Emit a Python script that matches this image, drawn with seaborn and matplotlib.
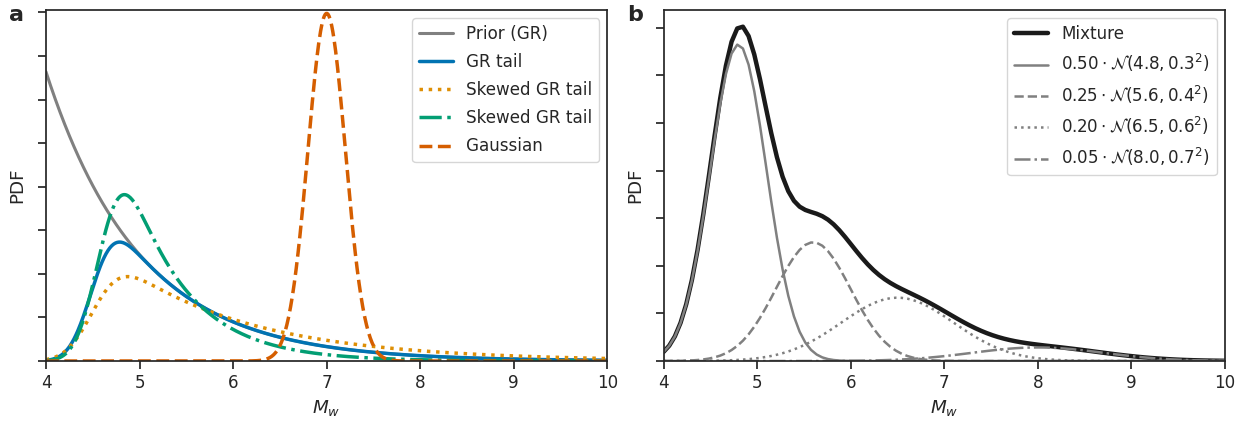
import math

import matplotlib
matplotlib.use("Agg")
import matplotlib.pyplot as plt
import numpy as np
import seaborn as sns

# ---- panel a: magnitude priors / likelihood shapes
mag_min = 4.0
prior_amp = 1.66
prior_rate = 1.0
tail_labels = ["GR tail", "Skewed GR tail", "Skewed GR tail"]
tail_amp = [1.66, 0.97, 4.45]
tail_rate = [1.0, 0.7, 1.6]
tail_det_mu = [4.54, 4.55, 4.655]
tail_det_sd = [0.19, 0.23, 0.20]
gauss_mu = 7.0
gauss_sd = 0.2

# ---- panel b: Gaussian mixture components (from the legend)
mix_w = [0.50, 0.25, 0.20, 0.05]
mix_mu = [4.8, 5.6, 6.5, 8.0]
mix_sd = [0.3, 0.4, 0.6, 0.7]


def norm_pdf(x, mu, sd):
    return np.exp(-0.5 * ((x - mu) / sd) ** 2) / (sd * np.sqrt(2 * np.pi))


def norm_cdf(x, mu, sd):
    z = (x - mu) / (sd * np.sqrt(2))
    return 0.5 * (1 + np.vectorize(math.erf)(z))


sns.set_theme(style="ticks", context="notebook", font_scale=1.1)
fig, (ax1, ax2) = plt.subplots(1, 2, figsize=(12.52, 4.22), dpi=100)
fig.subplots_adjust(left=0.0367, right=0.9784, bottom=0.1445, top=0.9763, wspace=0.1)

# panel a
m = np.linspace(4, 10, 600)
prior = prior_amp * np.exp(-prior_rate * (m - mag_min))
sns.lineplot(x=m, y=prior, ax=ax1, color="#808080", lw=2.2, label="Prior (GR)")

tail_styles = [("#0173b2", "-"), ("#de8f05", ":"), ("#029e73", "-.")]
for lab, a, r, mu, sd, (c, ls) in zip(tail_labels, tail_amp, tail_rate,
                                      tail_det_mu, tail_det_sd, tail_styles):
    y = a * np.exp(-r * (m - mag_min)) * norm_cdf(m, mu, sd)
    sns.lineplot(x=m, y=y, ax=ax1, color=c, linestyle=ls, lw=2.5, label=lab)

gauss = norm_pdf(m, gauss_mu, gauss_sd)
sns.lineplot(x=m, y=gauss, ax=ax1, color="#d55e00", linestyle="--", lw=2.5,
             label="Gaussian")

ax1.set_xlim(4, 10)
ax1.set_ylim(0, gauss.max() * 1.01)
ax1.set_yticks(np.arange(0, 2.01, 0.25))
ax1.tick_params(axis="y", labelleft=False)
ax1.set_xlabel("$M_w$")
ax1.set_ylabel("PDF", labelpad=8)
ax1.legend(loc="upper right", labelspacing=0.6)

# panel b
mb = np.linspace(4, 10, 100)
comps = [w * norm_pdf(mb, mu, sd) for w, mu, sd in zip(mix_w, mix_mu, mix_sd)]
mixture = np.sum(comps, axis=0)
sns.lineplot(x=mb, y=mixture, ax=ax2, color="#1a1a1a", lw=3.2, label="Mixture")
comp_styles = ["-", "--", ":", "-."]
for w, mu, sd, y, ls in zip(mix_w, mix_mu, mix_sd, comps, comp_styles):
    lab = rf"${w:.2f} \cdot \mathcal{{N}}({mu:.1f}, {sd:.1f}^2)$"
    sns.lineplot(x=mb, y=y, ax=ax2, color="#808080", linestyle=ls, lw=1.8, label=lab)

ax2.set_xlim(4, 10)
ax2.set_ylim(0, mixture.max() * 1.05)
ax2.set_yticks(np.arange(0, 0.75, 0.1))
ax2.tick_params(axis="y", labelleft=False)
ax2.set_xlabel("$M_w$")
ax2.set_ylabel("PDF", labelpad=8)
ax2.legend(loc="upper right", labelspacing=0.55)

fig.text(0.007, 0.965, "a", fontsize=16, fontweight="bold", va="center")
fig.text(0.501, 0.965, "b", fontsize=16, fontweight="bold", va="center")

fig.savefig("out.png", dpi=100)
